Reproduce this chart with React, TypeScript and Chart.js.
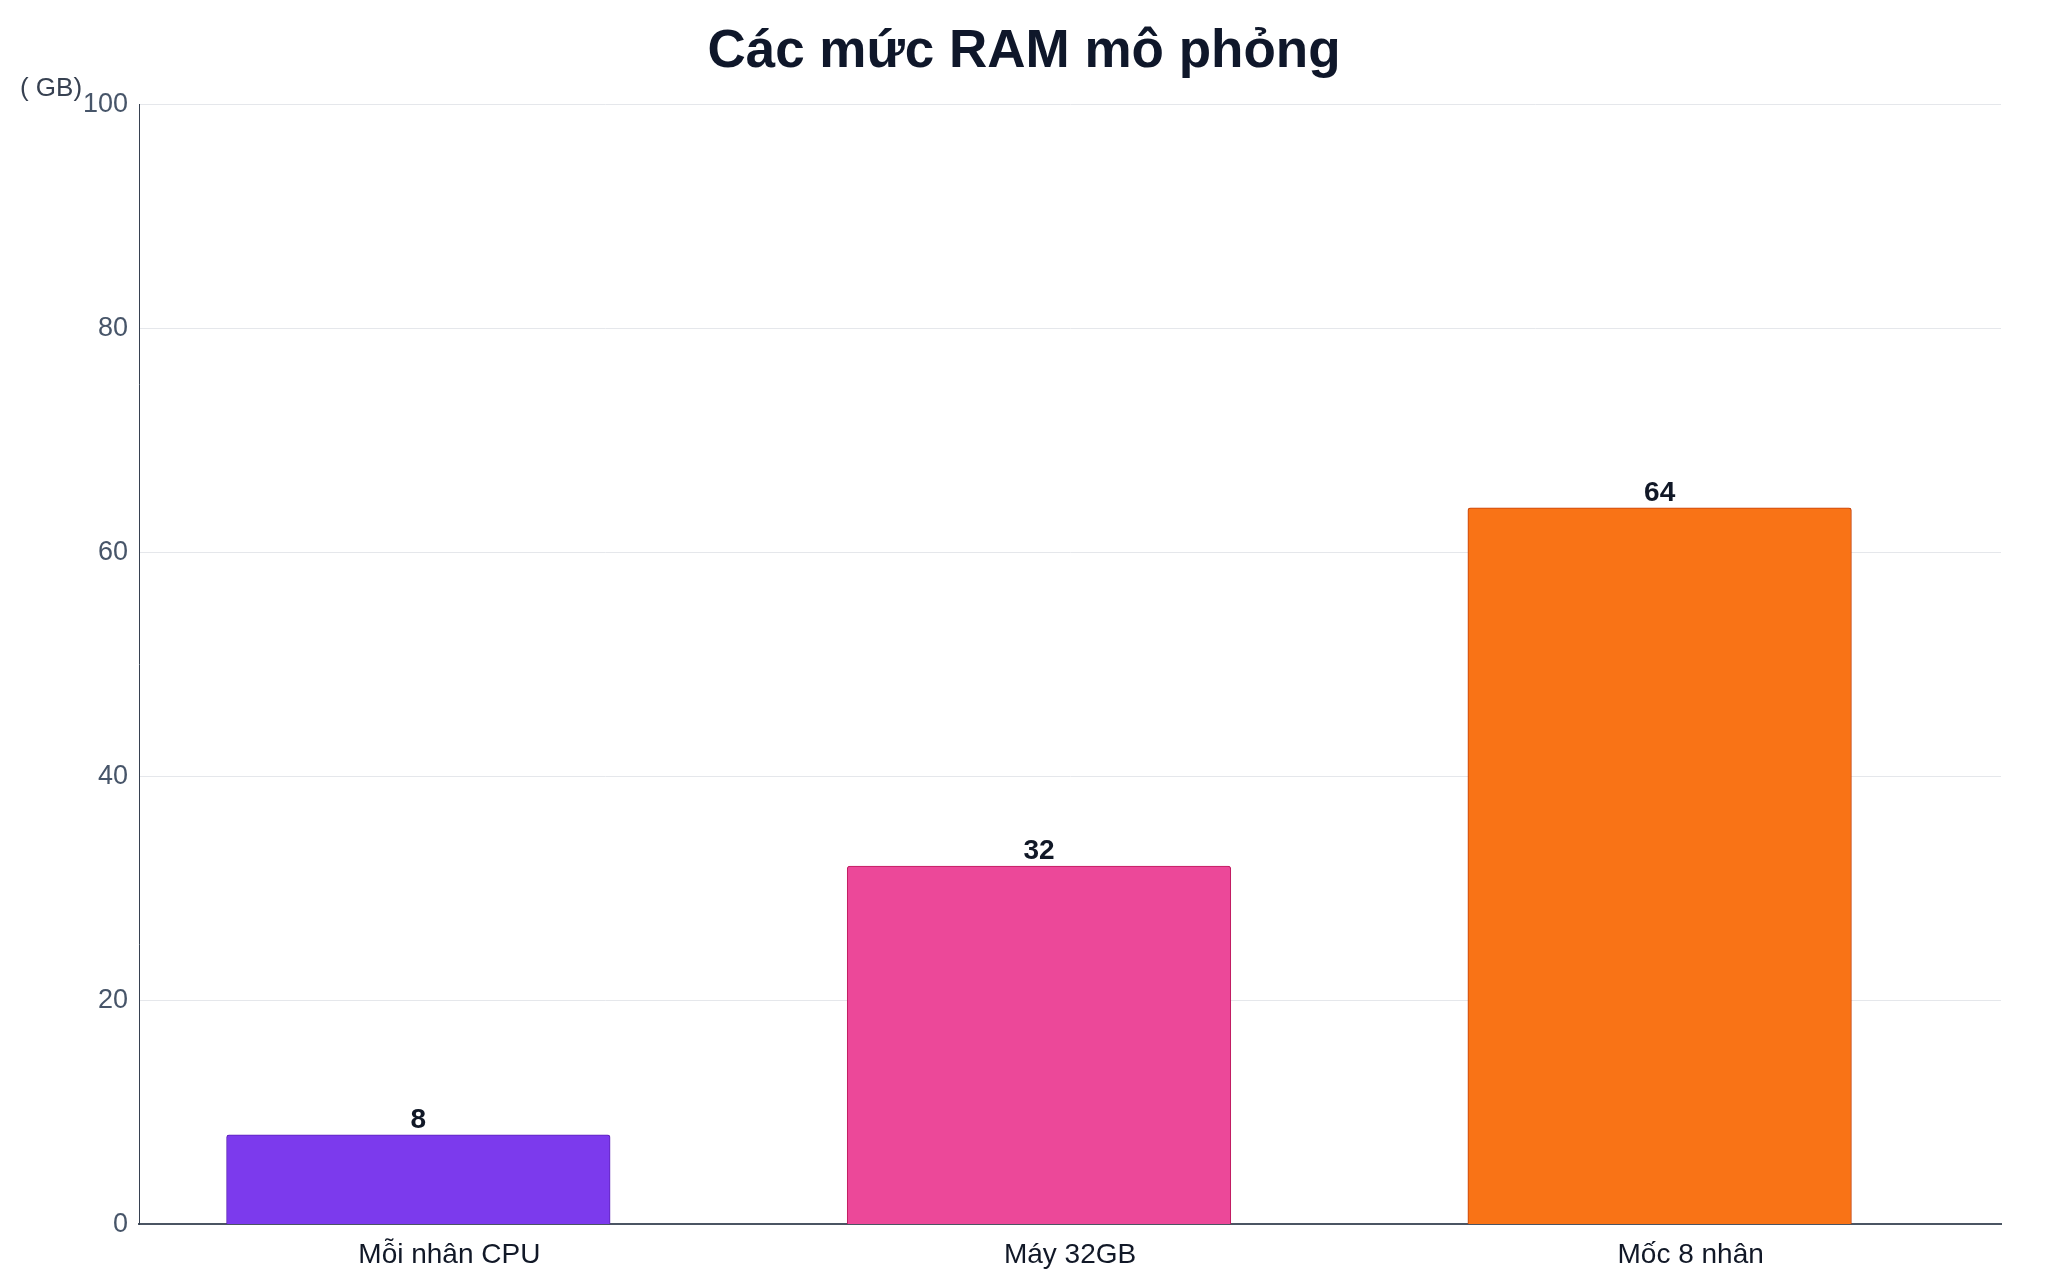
import { useEffect, useRef } from 'react';
import { Chart, registerables } from 'chart.js';

Chart.register(...registerables);

const TITLE = 'Các mức RAM mô phỏng';
const UNIT_LABEL = '( GB)';
const CATEGORIES = ['Mỗi nhân CPU', 'Máy 32GB', 'Mốc 8 nhân'];
const RAM_GB = [8, 32, 64];
const BAR_COLORS = ['#7c3aed', '#ec4899', '#f97316'];
const BAR_BORDERS = ['#5b21b6', '#be185d', '#c2410c'];
const Y_MIN = 0;
const Y_MAX = 100;
const Y_STEP = 20;

const FONT = '"Liberation Sans", Arial, Helvetica, sans-serif';

// value on top of each bar + the unit caption above the y axis
const labelsPlugin = {
  id: 'ramLabels',
  afterDatasetsDraw(chart: Chart) {
    const ctx = chart.ctx;
    const meta = chart.getDatasetMeta(0);
    ctx.save();
    ctx.font = `bold 28px ${FONT}`;
    ctx.fillStyle = '#111827';
    ctx.textAlign = 'center';
    ctx.textBaseline = 'alphabetic';
    meta.data.forEach((bar: any, i: number) => {
      ctx.fillText(String(RAM_GB[i]), bar.x, bar.y - 7);
    });

    const area = chart.chartArea;
    ctx.font = `26px ${FONT}`;
    ctx.fillStyle = '#374151';
    ctx.textAlign = 'right';
    ctx.textBaseline = 'middle';
    ctx.fillText(UNIT_LABEL, area.left - 57, area.top - 16);
    ctx.restore();
  },
};

export default function App() {
  const canvasRef = useRef<HTMLCanvasElement>(null);

  useEffect(() => {
    document.body.style.margin = '0';
    if (!canvasRef.current) return;

    const chart = new Chart(canvasRef.current, {
      type: 'bar',
      data: {
        labels: CATEGORIES,
        datasets: [
          {
            label: 'RAM',
            xAxisID: 'xb',
            data: RAM_GB.map((v, i) => ({ x: i, y: v })),
            backgroundColor: BAR_COLORS,
            borderColor: BAR_BORDERS,
            borderWidth: 1,
            borderRadius: 3,
            barThickness: 'flex',
            categoryPercentage: 1,
            barPercentage: 0.618,
          },
        ],
      },
      options: {
        animation: false,
        responsive: true,
        maintainAspectRatio: false,
        layout: { padding: { left: 47, right: 47, top: 0, bottom: -6 } },
        plugins: {
          legend: { display: false },
          tooltip: { enabled: false },
          title: {
            display: true,
            text: TITLE,
            color: '#0f172a',
            font: { family: FONT, size: 53, weight: 'bold' },
            padding: { top: 21, bottom: 20 },
          },
        },
        scales: {
          // bars sit slightly left of the category centres in the reference
          xb: {
            type: 'linear',
            display: false,
            offset: false,
            min: -0.45,
            max: 2.55,
          },
          x: {
            type: 'category',
            offset: true,
            grid: { display: false, drawTicks: false },
            border: { display: true, color: '#4b5563', width: 2 },
            ticks: {
              color: '#111827',
              padding: 14,
              font: { family: FONT, size: 28 },
            },
          },
          y: {
            min: Y_MIN,
            max: Y_MAX,
            afterFit: (scale: any) => {
              scale.width += 25;
            },
            grid: { color: '#e5e7eb', lineWidth: 1, drawTicks: false },
            border: { display: true, color: '#374151', width: 1 },
            ticks: {
              stepSize: Y_STEP,
              color: '#475569',
              padding: 11,
              font: { family: FONT, size: 27 },
            },
          },
        },
      },
      plugins: [labelsPlugin],
    });

    return () => chart.destroy();
  }, []);

  return (
    <div style={{ width: 2048, height: 1280, position: 'relative', background: '#ffffff' }}>
      <canvas ref={canvasRef} />
    </div>
  );
}
